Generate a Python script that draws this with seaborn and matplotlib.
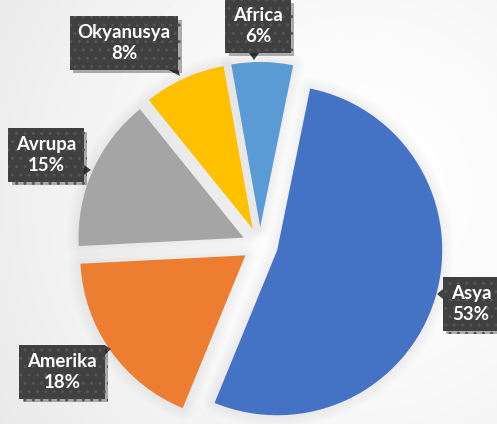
import numpy as np
import matplotlib.pyplot as plt
import matplotlib.patheffects as pe
from matplotlib.patches import Polygon
import seaborn as sns

# data
regions = ['Asya', 'Amerika', 'Avrupa', 'Okyanusya', 'Africa']
shares = [53, 18, 15, 8, 6]
colors = ['#4472C4', '#ED7D31', '#A5A5A5', '#FFC000', '#5B9BD5']

# label layout (pixel centers of callout boxes, and pointer tips)
label_pos = [(471, 304), (62, 372), (46, 155), (124, 43), (258, 26)]
tip_pos = [(437, 294), (111, 349), (91, 170), (180, 76), (254, 60)]

sns.set_theme(style='white')
plt.rcParams['font.family'] = ['Lato', 'DejaVu Sans']

W, H = 497, 424
fig = plt.figure(figsize=(W / 100, H / 100), dpi=100)
ax = fig.add_axes([0, 0, 1, 1])

# soft gray vignette in the background
yy, xx = np.mgrid[0:H, 0:W]
d = np.hypot(xx - 360, (H - yy) - 230) / 420
bg = 1 - 0.085 * np.clip(d, 0, 1.2) ** 1.5
ax.imshow(bg, cmap='gray', vmin=0, vmax=1, extent=(0, W, 0, H), origin='upper', zorder=0)

center = (260, H - 245)
R = 165
explode = [18] * len(shares)  # pie offsets are in data units

# blurred shadow behind the wedges
for k in range(1, 8):
    ax.pie(shares, colors=['black'] * len(shares), startangle=78.5, counterclock=False,
           explode=explode, center=center, radius=R, frame=True,
           wedgeprops=dict(linewidth=k * 2.4, edgecolor='black', alpha=0.009,
                           joinstyle='round'))

ax.pie(shares, colors=colors, startangle=78.5, counterclock=False,
       explode=explode, center=center, radius=R, frame=True,
       wedgeprops=dict(linewidth=0))

ax.set_xlim(0, W)
ax.set_ylim(0, H)
ax.set_aspect('equal')
ax.axis('off')

texts = []
for name, val, (lx, ly) in zip(regions, shares, label_pos):
    t = ax.text(lx, H - ly, f'{name}\n{val}%', ha='center', va='center',
                color='white', fontsize=13.4, fontweight='bold', linespacing=1.3, zorder=6,
                bbox=dict(boxstyle='square,pad=0.42', fc='#404040', ec='#555555', lw=0,
                          hatch='..',
                          path_effects=[pe.withSimplePatchShadow(offset=(2.5, -2.5),
                                                                 shadow_rgbFace='black',
                                                                 alpha=0.3)]))
    texts.append(t)

fig.canvas.draw()
inv = ax.transData.inverted()
for t, (tx, ty) in zip(texts, tip_pos):
    bb = t.get_bbox_patch().get_window_extent()
    (x0, y0), (x1, y1) = inv.transform([(bb.x0, bb.y0), (bb.x1, bb.y1)])
    px, py = tx, H - ty
    # nearest box edge to the tip
    dists = {'l': x0 - px, 'r': px - x1, 'b': y0 - py, 't': py - y1}
    side = max(dists, key=dists.get)
    hw = 5
    if side in ('l', 'r'):
        ex = x0 if side == 'l' else x1
        cy = np.clip(py, y0 + hw, y1 - hw)
        base = [(ex, cy - hw), (ex, cy + hw)]
    else:
        ey = y0 if side == 'b' else y1
        cx = np.clip(px, x0 + hw, x1 - hw)
        base = [(cx - hw, ey), (cx + hw, ey)]
    ax.add_patch(Polygon([base[0], (px, py), base[1]], closed=True,
                         fc='#404040', ec='none', zorder=5))

fig.savefig('out.png', dpi=100)
